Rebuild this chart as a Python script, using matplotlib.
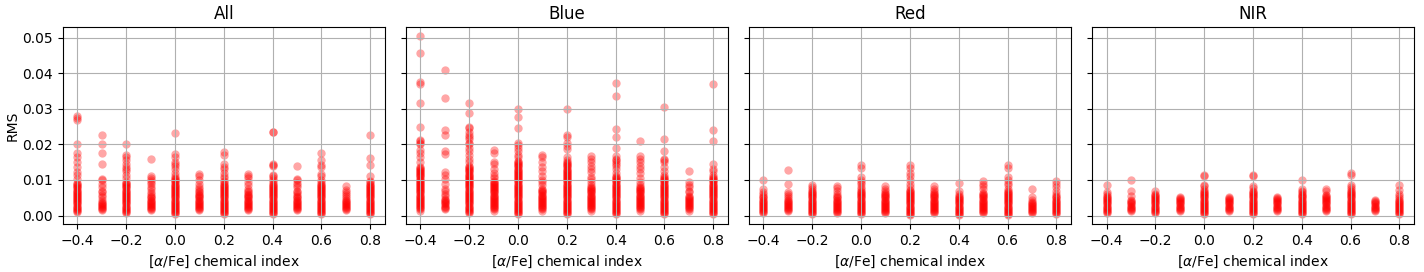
import matplotlib.pyplot as plt
import numpy as np

# [alpha/Fe] grid shared by every panel
alpha_fe = [-0.4, -0.3, -0.2, -0.1, 0.0, 0.1, 0.2, 0.3, 0.4, 0.5, 0.6, 0.7, 0.8]
panel_titles = ["All", "Blue", "Red", "NIR"]

# RMS values per [alpha/Fe] column, in units of 1e-3
rms_all = [
    [1.0, 1.3, 1.6, 1.9, 2.2, 2.5, 2.8, 3.1, 3.4, 3.7, 4.0, 4.3, 4.6, 4.9, 5.2, 5.5, 5.8, 6.1, 6.4, 6.7, 7.0, 7.3, 7.6, 7.9, 8.2, 8.5, 8.8,
     9.2, 10.4, 11.5, 12.2, 13.6, 15.0, 16.5, 17.7, 20.0, 26.8, 27.5, 28.0],
    [1.5, 1.8, 2.1, 2.4, 2.7, 3.0, 3.3, 3.6, 3.9,
     4.5, 5.2, 5.8, 6.5, 7.0, 8.0, 9.0, 10.0, 10.2, 14.6, 17.7, 20.2, 22.5],
    [0.7, 1.0, 1.3, 1.6, 1.9, 2.2, 2.5, 2.8, 3.1, 3.4, 3.7, 4.0, 4.3, 4.6, 4.9, 5.2, 5.5, 5.8, 6.1, 6.4, 6.7, 7.0, 7.3, 7.6, 7.9, 8.2, 8.5, 8.8, 9.1, 9.4,
     10.5, 11.5, 12.5, 13.0, 13.5, 14.5, 15.5, 16.5, 17.0, 20.0],
    [1.5, 1.8, 2.1, 2.4, 2.7, 3.0, 3.3, 3.6, 3.9, 4.2, 4.5, 4.8, 5.1, 5.4,
     6.0, 6.5, 7.5, 8.0, 9.0, 9.5, 10.0, 10.5, 11.0, 15.8],
    [0.3, 0.6, 0.9, 1.2, 1.5, 1.8, 2.1, 2.4, 2.7, 3.0, 3.3, 3.6, 3.9, 4.2, 4.5, 4.8, 5.1, 5.4, 5.7, 6.0, 6.3, 6.6, 6.9, 7.2, 7.5, 7.8, 8.1, 8.4, 8.7, 9.0, 9.3, 9.6, 9.9, 10.2, 10.5,
     11.0, 12.0, 13.0, 14.0, 14.5, 15.0, 16.5, 17.2, 23.2],
    [1.5, 1.8, 2.1, 2.4, 2.7, 3.0, 3.3, 3.6, 3.9, 4.2, 4.5, 4.8, 5.1, 5.4, 5.7, 6.0,
     6.5, 7.0, 7.5, 8.0, 9.0, 10.0, 11.0, 11.8],
    [0.3, 0.6, 0.9, 1.2, 1.5, 1.8, 2.1, 2.4, 2.7, 3.0, 3.3, 3.6, 3.9, 4.2, 4.5, 4.8, 5.1, 5.4, 5.7, 6.0, 6.3, 6.6, 6.9, 7.2, 7.5, 7.8, 8.1, 8.4, 8.7, 9.0, 9.3, 9.6,
     10.5, 11.0, 12.0, 13.0, 13.6, 14.5, 17.0, 17.8],
    [1.5, 1.8, 2.1, 2.4, 2.7, 3.0, 3.3, 3.6, 3.9, 4.2, 4.5, 4.8, 5.1, 5.4, 5.7, 6.0,
     6.5, 7.0, 7.5, 8.5, 9.5, 10.5, 11.0, 11.7],
    [0.3, 0.6, 0.9, 1.2, 1.5, 1.8, 2.1, 2.4, 2.7, 3.0, 3.3, 3.6, 3.9, 4.2, 4.5, 4.8, 5.1, 5.4, 5.7, 6.0, 6.3, 6.6, 6.9, 7.2, 7.5, 7.8, 8.1, 8.4, 8.7, 9.0,
     9.5, 10.0, 10.5, 11.0, 11.3, 14.0, 14.3, 14.6, 23.4, 23.6],
    [1.5, 1.8, 2.1, 2.4, 2.7, 3.0, 3.3, 3.6, 3.9, 4.2, 4.5, 4.8, 5.1, 5.4,
     6.0, 6.5, 7.0, 8.0, 8.5, 9.2, 10.0, 10.4, 13.8],
    [0.3, 0.6, 0.9, 1.2, 1.5, 1.8, 2.1, 2.4, 2.7, 3.0, 3.3, 3.6, 3.9, 4.2, 4.5, 4.8, 5.1, 5.4, 5.7, 6.0, 6.3, 6.6, 6.9, 7.2, 7.5, 7.8, 8.1, 8.4, 8.7, 9.0,
     9.3, 10.0, 11.0, 11.8, 13.5, 14.2, 15.5, 17.5],
    [1.5, 1.8, 2.1, 2.4, 2.7, 3.0, 3.3, 3.6, 3.9, 4.2, 4.5,
     5.0, 5.5, 6.0, 6.5, 7.3, 8.3],
    [0.3, 0.6, 0.9, 1.2, 1.5, 1.8, 2.1, 2.4, 2.7, 3.0, 3.3, 3.6, 3.9, 4.2, 4.5, 4.8, 5.1, 5.4, 5.7, 6.0, 6.3, 6.6, 6.9, 7.2, 7.5, 7.8, 8.1, 8.4, 8.7, 9.0, 9.3,
     9.7, 11.0, 14.3, 16.3, 22.5],
]

rms_blue = [
    [1.4, 1.7, 2.0, 2.3, 2.6, 2.9, 3.2, 3.5, 3.8, 4.1, 4.4, 4.7, 5.0, 5.3, 5.6, 5.9, 6.2, 6.5, 6.8, 7.1, 7.4, 7.7, 8.0, 8.3, 8.6, 8.9, 9.2, 9.5, 9.8, 10.1, 10.4, 10.7, 11.0, 11.3, 11.6, 11.9, 12.2, 12.5, 12.8, 13.1, 13.4, 13.7,
     15.0, 16.5, 17.5, 18.5, 20.0, 20.5, 21.0, 21.3, 24.8, 31.5, 37.0, 37.5, 45.7, 50.4],
    [1.9, 2.2, 2.5, 2.8, 3.1, 3.4, 3.7, 4.0, 4.3, 4.7,
     5.5, 6.0, 7.0, 7.5, 9.0, 10.4, 11.5, 12.2, 17.4, 18.0, 22.7, 24.0, 33.0, 41.0],
    [0.7, 1.0, 1.3, 1.6, 1.9, 2.2, 2.5, 2.8, 3.1, 3.4, 3.7, 4.0, 4.3, 4.6, 4.9, 5.2, 5.5, 5.8, 6.1, 6.4, 6.7, 7.0, 7.3, 7.6, 7.9, 8.2, 8.5, 8.8, 9.1, 9.4, 9.7, 10.0, 10.3, 10.6, 10.9, 11.2, 11.5, 11.8, 12.1, 12.4, 12.7, 13.0, 13.3, 13.6, 14.0,
     15.0, 16.0, 17.0, 18.0, 19.0, 20.0, 20.5, 21.5, 22.0, 22.5, 23.5, 24.5, 25.0, 28.7, 31.5],
    [1.4, 1.7, 2.0, 2.3, 2.6, 2.9, 3.2, 3.5, 3.8, 4.1, 4.4, 4.7, 5.0, 5.3, 5.6, 5.9, 6.2, 6.5, 6.8, 7.1, 7.4, 7.7, 8.0, 8.3, 8.6, 8.9, 9.2, 9.5, 9.8,
     10.5, 11.0, 12.0, 13.0, 14.5, 15.0, 17.5, 18.5],
    [0.3, 0.6, 0.9, 1.2, 1.5, 1.8, 2.1, 2.4, 2.7, 3.0, 3.3, 3.6, 3.9, 4.2, 4.5, 4.8, 5.1, 5.4, 5.7, 6.0, 6.3, 6.6, 6.9, 7.2, 7.5, 7.8, 8.1, 8.4, 8.7, 9.0, 9.3, 9.6, 9.9, 10.2, 10.5, 10.8, 11.1, 11.4, 11.7, 12.0, 12.3, 12.6, 12.9, 13.2, 13.5, 13.8, 14.1, 14.4, 14.7, 15.0, 15.3,
     16.5, 17.0, 18.0, 19.0, 19.8, 20.5, 24.5, 27.6, 29.8],
    [1.4, 1.7, 2.0, 2.3, 2.6, 2.9, 3.2, 3.5, 3.8, 4.1, 4.4, 4.7, 5.0, 5.3, 5.6, 5.9, 6.2, 6.5, 6.8, 7.1, 7.4,
     8.5, 9.5, 10.0, 11.0, 12.5, 13.5, 15.0, 16.4, 17.0],
    [0.3, 0.6, 0.9, 1.2, 1.5, 1.8, 2.1, 2.4, 2.7, 3.0, 3.3, 3.6, 3.9, 4.2, 4.5, 4.8, 5.1, 5.4, 5.7, 6.0, 6.3, 6.6, 6.9, 7.2, 7.5, 7.8, 8.1, 8.4, 8.7, 9.0, 9.3, 9.6, 9.9, 10.2, 10.5, 10.8, 11.1, 11.4, 11.7, 12.0, 12.3, 12.6, 12.9, 13.2, 13.5, 13.8, 14.1, 14.4, 14.7, 15.0,
     15.5, 16.5, 18.8, 19.5, 20.5, 22.0, 22.7, 29.8],
    [1.4, 1.7, 2.0, 2.3, 2.6, 2.9, 3.2, 3.5, 3.8, 4.1, 4.4, 4.7, 5.0, 5.3, 5.6, 5.9, 6.2, 6.5, 6.8, 7.1, 7.4, 7.7, 8.0,
     8.5, 9.4, 10.2, 10.8, 12.2, 13.0, 14.0, 15.0, 16.0, 16.7],
    [0.3, 0.6, 0.9, 1.2, 1.5, 1.8, 2.1, 2.4, 2.7, 3.0, 3.3, 3.6, 3.9, 4.2, 4.5, 4.8, 5.1, 5.4, 5.7, 6.0, 6.3, 6.6, 6.9, 7.2, 7.5, 7.8, 8.1, 8.4, 8.7, 9.0, 9.3, 9.6, 9.9, 10.2, 10.5, 10.8, 11.1,
     12.0, 13.0, 14.0, 14.5, 15.0, 15.5, 16.0, 16.7, 19.1, 22.0, 24.2, 33.6, 37.2],
    [1.4, 1.7, 2.0, 2.3, 2.6, 2.9, 3.2, 3.5, 3.8, 4.1, 4.4, 4.7, 5.0, 5.3, 5.6, 5.9, 6.2, 6.5, 6.8, 7.1, 7.4, 7.7, 8.0, 8.5,
     9.5, 10.5, 12.0, 13.0, 14.0, 15.0, 16.0, 16.7, 21.0],
    [0.3, 0.6, 0.9, 1.2, 1.5, 1.8, 2.1, 2.4, 2.7, 3.0, 3.3, 3.6, 3.9, 4.2, 4.5, 4.8, 5.1, 5.4, 5.7, 6.0, 6.3, 6.6, 6.9, 7.2, 7.5, 7.8, 8.1, 8.4, 8.7, 9.0, 9.3, 9.6, 9.9, 10.2, 10.5, 10.8,
     11.5, 12.5, 13.5, 15.0, 15.5, 16.0, 18.2, 21.4, 30.4],
    [1.4, 1.7, 2.0, 2.3, 2.6, 2.9, 3.2, 3.5, 3.8, 4.1, 4.4, 4.7, 5.0, 5.3, 5.6,
     6.5, 7.0, 8.0, 8.7, 9.4, 12.4],
    [0.3, 0.6, 0.9, 1.2, 1.5, 1.8, 2.1, 2.4, 2.7, 3.0, 3.3, 3.6, 3.9, 4.2, 4.5, 4.8, 5.1, 5.4, 5.7, 6.0, 6.3, 6.6, 6.9, 7.2, 7.5, 7.8, 8.1, 8.4, 8.7, 9.0, 9.3, 9.6, 9.9, 10.2, 10.5, 10.8,
     11.5, 12.5, 13.2, 14.6, 21.0, 23.9, 36.9],
]

rms_red = [
    [0.6, 0.9, 1.2, 1.5, 1.8, 2.1, 2.4, 2.7, 3.0, 3.3, 3.6, 3.9, 4.2, 4.5, 4.8, 5.1, 5.4,
     6.0, 6.5, 7.5, 10.1],
    [1.2, 1.5, 1.8, 2.1, 2.4, 2.7, 3.0, 3.3, 3.6, 3.9, 4.2, 4.5,
     5.0, 5.5, 6.0, 6.6, 9.0, 12.9],
    [0.3, 0.6, 0.9, 1.2, 1.5, 1.8, 2.1, 2.4, 2.7, 3.0, 3.3, 3.6, 3.9, 4.2, 4.5, 4.8, 5.1, 5.4, 5.7, 6.0, 6.3, 6.6, 6.9,
     7.5, 8.0, 8.5],
    [0.6, 0.9, 1.2, 1.5, 1.8, 2.1, 2.4, 2.7, 3.0, 3.3, 3.6, 3.9, 4.2, 4.5, 4.8, 5.1, 5.4,
     6.0, 7.0, 7.6, 8.4],
    [0.3, 0.6, 0.9, 1.2, 1.5, 1.8, 2.1, 2.4, 2.7, 3.0, 3.3, 3.6, 3.9, 4.2, 4.5, 4.8, 5.1, 5.4, 5.7, 6.0, 6.3, 6.6, 6.9,
     7.5, 8.0, 9.0, 9.5, 10.0, 10.8, 13.4, 14.3],
    [0.6, 0.9, 1.2, 1.5, 1.8, 2.1, 2.4, 2.7, 3.0, 3.3, 3.6, 3.9, 4.2, 4.5, 4.8, 5.1, 5.4, 5.7, 6.0, 6.3,
     7.0, 7.5, 8.2],
    [0.1, 0.4, 0.7, 1.0, 1.3, 1.6, 1.9, 2.2, 2.5, 2.8, 3.1, 3.4, 3.7, 4.0, 4.3, 4.6, 4.9, 5.2, 5.5, 5.8, 6.1, 6.4, 6.7, 7.0, 7.3,
     8.0, 9.0, 10.0, 11.0, 12.0, 13.4, 14.3],
    [0.6, 0.9, 1.2, 1.5, 1.8, 2.1, 2.4, 2.7, 3.0, 3.3, 3.6, 3.9, 4.2, 4.5, 4.8, 5.1, 5.4, 5.7, 6.0, 6.3,
     7.0, 7.5, 8.2],
    [0.1, 0.4, 0.7, 1.0, 1.3, 1.6, 1.9, 2.2, 2.5, 2.8, 3.1, 3.4, 3.7, 4.0, 4.3, 4.6, 4.9, 5.2, 5.5,
     6.0, 6.8, 9.1],
    [0.6, 0.9, 1.2, 1.5, 1.8, 2.1, 2.4, 2.7, 3.0, 3.3, 3.6, 3.9, 4.2, 4.5, 4.8, 5.1, 5.4, 5.7, 6.0, 6.3,
     7.5, 8.2, 9.0, 9.7],
    [0.1, 0.4, 0.7, 1.0, 1.3, 1.6, 1.9, 2.2, 2.5, 2.8, 3.1, 3.4, 3.7, 4.0, 4.3, 4.6, 4.9, 5.2, 5.5, 5.8, 6.1, 6.4, 6.7, 7.0,
     7.5, 8.5, 9.2, 10.0, 10.8, 13.4, 14.3],
    [0.6, 0.9, 1.2, 1.5, 1.8, 2.1, 2.4, 2.7, 3.0, 3.3, 3.6, 3.9,
     4.5, 5.2, 7.5],
    [0.3, 0.6, 0.9, 1.2, 1.5, 1.8, 2.1, 2.4, 2.7, 3.0, 3.3, 3.6, 3.9, 4.2, 4.5, 4.8, 5.1, 5.4,
     6.0, 7.0, 8.0, 9.0, 9.6],
]

rms_nir = [
    [0.7, 1.0, 1.3, 1.6, 1.9, 2.2, 2.5, 2.8, 3.1, 3.4, 3.7, 4.0, 4.3, 4.6, 4.9, 5.2, 5.5,
     6.0, 6.5, 8.7],
    [1.3, 1.6, 1.9, 2.2, 2.5, 2.8, 3.1, 3.4, 3.7, 4.0,
     4.5, 5.4, 6.9, 9.9],
    [0.7, 1.0, 1.3, 1.6, 1.9, 2.2, 2.5, 2.8, 3.1, 3.4, 3.7, 4.0, 4.3, 4.6, 4.9, 5.2, 5.5, 5.8, 6.1,
     6.9],
    [1.3, 1.6, 1.9, 2.2, 2.5, 2.8, 3.1, 3.4, 3.7, 4.0, 4.3, 4.6, 4.9, 5.1],
    [0.3, 0.6, 0.9, 1.2, 1.5, 1.8, 2.1, 2.4, 2.7, 3.0, 3.3, 3.6, 3.9, 4.2, 4.5, 4.8, 5.1, 5.4, 5.7, 6.0, 6.3, 6.6, 6.9,
     7.5, 8.2, 8.5, 11.0, 11.4],
    [1.3, 1.6, 1.9, 2.2, 2.5, 2.8, 3.1, 3.4, 3.7, 4.0, 4.3, 4.6, 4.9, 5.1],
    [0.3, 0.6, 0.9, 1.2, 1.5, 1.8, 2.1, 2.4, 2.7, 3.0, 3.3, 3.6, 3.9, 4.2, 4.5, 4.8, 5.1, 5.4, 5.7, 6.0, 6.3, 6.6, 6.9,
     7.6, 8.2, 11.0, 11.5],
    [1.3, 1.6, 1.9, 2.2, 2.5, 2.8, 3.1, 3.4, 3.7, 4.0, 4.3, 4.6, 4.9, 5.1],
    [0.3, 0.6, 0.9, 1.2, 1.5, 1.8, 2.1, 2.4, 2.7, 3.0, 3.3, 3.6, 3.9, 4.2, 4.5, 4.8, 5.1, 5.4, 5.7, 6.0,
     6.5, 7.0, 7.5, 10.0],
    [1.3, 1.6, 1.9, 2.2, 2.5, 2.8, 3.1, 3.4, 3.7, 4.0, 4.3, 4.6, 4.9, 5.2, 5.5, 5.8,
     7.0, 7.4],
    [0.3, 0.6, 0.9, 1.2, 1.5, 1.8, 2.1, 2.4, 2.7, 3.0, 3.3, 3.6, 3.9, 4.2, 4.5, 4.8, 5.1, 5.4, 5.7, 6.0, 6.3, 6.6, 6.9,
     7.5, 8.0, 8.5, 11.3, 11.9],
    [1.3, 1.6, 1.9, 2.2, 2.5, 2.8, 3.1, 3.4, 3.7, 4.0,
     4.5],
    [0.3, 0.6, 0.9, 1.2, 1.5, 1.8, 2.1, 2.4, 2.7, 3.0, 3.3, 3.6, 3.9, 4.2, 4.5, 4.8,
     5.5, 6.0, 7.1, 8.5],
]

fig, axes = plt.subplots(1, 4, figsize=(14.24, 2.72), dpi=100, sharey=True)
fig.subplots_adjust(left=0.044, right=0.993, top=0.90, bottom=0.176, wspace=0.065)

for ax, title, columns in zip(axes, panel_titles, [rms_all, rms_blue, rms_red, rms_nir]):
    for x, vals in zip(alpha_fe, columns):
        y = np.array(vals) * 1e-3
        ax.scatter(np.full(len(y), x), y, color="red", alpha=0.35, s=36, linewidths=0)
    ax.set_title(title, fontsize=12)
    ax.set_xlabel(r"[$\alpha$/Fe] chemical index")
    ax.grid(True)

axes[0].set_ylabel("RMS", labelpad=2)

plt.savefig("out.png", dpi=100)
